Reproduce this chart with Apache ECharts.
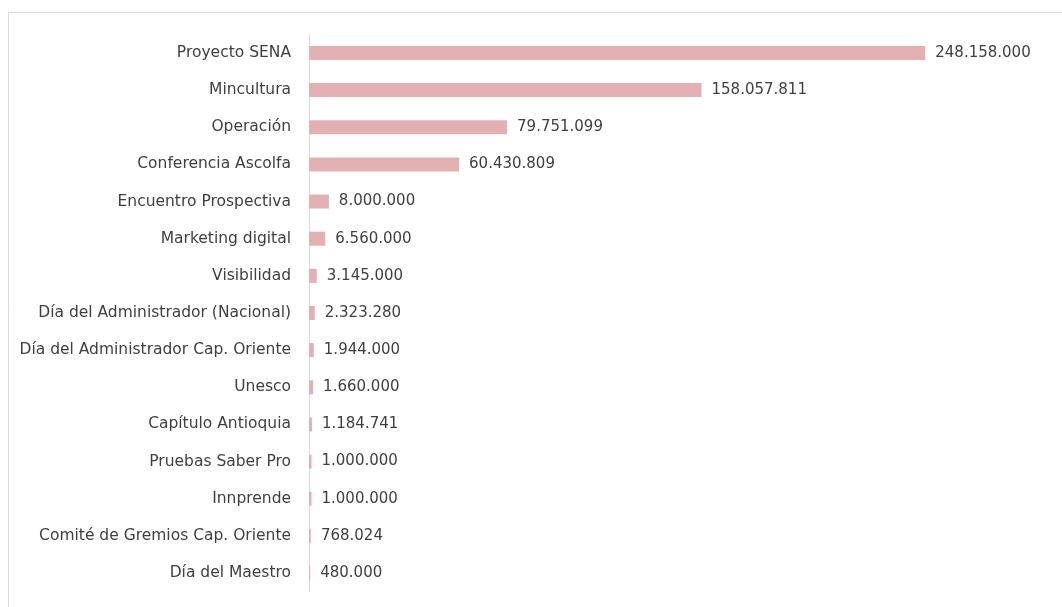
<!DOCTYPE html>
<html>
<head>
<meta charset="utf-8">
<script src="https://cdn.jsdelivr.net/npm/echarts@6/dist/echarts.min.js"></script>
<style>
html,body{margin:0;padding:0;background:#fff;}
#chart{width:1062px;height:607px;}
</style>
</head>
<body>
<div id="chart"></div>
<script>
const categories = [
  "Proyecto SENA",
  "Mincultura",
  "Operación",
  "Conferencia Ascolfa",
  "Encuentro Prospectiva",
  "Marketing digital",
  "Visibilidad",
  "Día del Administrador (Nacional)",
  "Día del Administrador Cap. Oriente",
  "Unesco",
  "Capítulo Antioquia",
  "Pruebas Saber Pro",
  "Innprende",
  "Comité de Gremios Cap. Oriente",
  "Día del Maestro"
];
const values = [
  248158000,
  158057811,
  79751099,
  60430809,
  8000000,
  6560000,
  3145000,
  2323280,
  1944000,
  1660000,
  1184741,
  1000000,
  1000000,
  768024,
  480000
];

function fmt(v){
  return String(Math.round(v)).replace(/\B(?=(\d{3})+(?!\d))/g, '.');
}

const chart = echarts.init(document.getElementById('chart'), null, {renderer:'canvas'});
const FONT = 'DejaVu Sans';
chart.setOption({
  animation:false,
  backgroundColor:'#ffffff',
  grid:{left:309, right:8, top:34.4, bottom:15.4, containLabel:false},
  xAxis:{
    type:'value', min:0, max:300000000, show:false,
    splitLine:{show:false}
  },
  yAxis:{
    type:'category', data:categories, inverse:true,
    axisLine:{show:true, lineStyle:{color:'#d9d9d9', width:1}},
    axisTick:{show:false},
    axisLabel:{color:'#3f3f3f', fontFamily:FONT, fontSize:15.5, margin:18}
  },
  series:[{
    type:'bar', data:values, barWidth:14,
    itemStyle:{color:'#e3b1b3'},
    label:{show:true, position:'right', distance:10, color:'#3f3f3f',
      fontFamily:FONT, fontSize:15,
      formatter:p=>fmt(p.value)}
  }],
  graphic:[
    {type:'line', shape:{x1:8, y1:12.5, x2:1062, y2:12.5}, style:{stroke:'#d9d9d9', lineWidth:1}, silent:true},
    {type:'line', shape:{x1:8.5, y1:12, x2:8.5, y2:607}, style:{stroke:'#d9d9d9', lineWidth:1}, silent:true}
  ]
});
</script>
</body>
</html>
